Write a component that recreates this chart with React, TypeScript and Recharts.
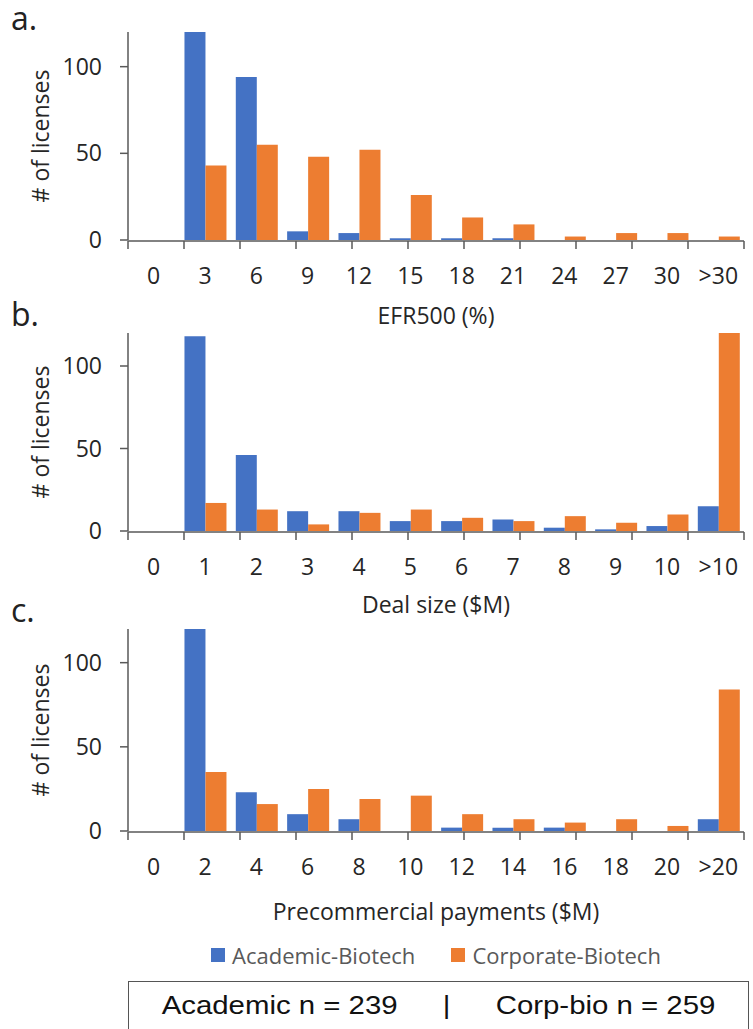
import { BarChart, Bar, XAxis, YAxis } from "recharts";

const efrBins = ["0", "3", "6", "9", "12", "15", "18", "21", "24", "27", "30", ">30"];
const efrAcademic = [0, 120, 94, 5, 4, 1, 1, 1, 0, 0, 0, 0];
const efrCorporate = [0, 43, 55, 48, 52, 26, 13, 9, 2, 4, 4, 2];

const dealBins = ["0", "1", "2", "3", "4", "5", "6", "7", "8", "9", "10", ">10"];
const dealAcademic = [0, 118, 46, 12, 12, 6, 6, 7, 2, 1, 3, 15];
const dealCorporate = [0, 17, 13, 4, 11, 13, 8, 6, 9, 5, 10, 120];

const payBins = ["0", "2", "4", "6", "8", "10", "12", "14", "16", "18", "20", ">20"];
const payAcademic = [0, 120, 23, 10, 7, 0, 2, 2, 2, 0, 0, 7];
const payCorporate = [0, 35, 16, 25, 19, 21, 10, 7, 5, 7, 3, 84];

const yTicks = [0, 50, 100];
const yMax = 120;

const BLUE = "#4472C4";
const ORANGE = "#ED7D31";
const AXIS = "#595959";
const TEXT = "#262626";
const FONT = "'Open Sans', 'Noto Sans', sans-serif";

interface PanelProps {
  top: number;
  plotHeight: number;
  bins: string[];
  academic: number[];
  corporate: number[];
  letter: string;
  letterTop: number;
  title: string;
  titleTop: number;
}

function Panel({ top, plotHeight, bins, academic, corporate, letter, letterTop, title, titleTop }: PanelProps) {
  const data = bins.map((bin, i) => ({ bin, academic: academic[i], corporate: corporate[i] }));
  // tick marks sit on the bin edges, like the Excel original
  const edges = bins.map((_, i) => i).concat(bins.length);
  const marginTop = 32;
  const marginBottom = 58;

  return (
    <>
      <div style={{ position: "absolute", left: 0, top }}>
        <BarChart
          width={753}
          height={marginTop + plotHeight + marginBottom + 2}
          data={data}
          margin={{ top: marginTop, right: 9, bottom: marginBottom, left: 0 }}
          barCategoryGap="10%"
          barGap={0}
        >
          <XAxis
            xAxisId="edges"
            type="number"
            domain={[0, bins.length]}
            ticks={edges}
            allowDataOverflow
            height={1}
            tickFormatter={() => ""}
            tickSize={8}
            axisLine={{ stroke: AXIS, strokeWidth: 1.5 }}
            tickLine={{ stroke: AXIS, strokeWidth: 1.5 }}
          />
          <XAxis
            dataKey="bin"
            height={1}
            interval={0}
            axisLine={false}
            tickLine={false}
            tickSize={0}
            tickMargin={28}
            tick={{ fontSize: 23, fill: TEXT, fontFamily: FONT }}
          />
          <YAxis
            width={128}
            domain={[0, yMax]}
            ticks={yTicks}
            allowDataOverflow
            tickSize={8}
            tickMargin={18}
            axisLine={{ stroke: AXIS, strokeWidth: 1.5 }}
            tickLine={{ stroke: AXIS, strokeWidth: 1.5 }}
            tick={{ fontSize: 23, fill: TEXT, fontFamily: FONT }}
          />
          <Bar dataKey="academic" name="Academic-Biotech" fill={BLUE} isAnimationActive={false} />
          <Bar dataKey="corporate" name="Corporate-Biotech" fill={ORANGE} isAnimationActive={false} />
        </BarChart>
      </div>
      <div
        style={{
          position: "absolute",
          left: 40,
          top: top + marginTop + plotHeight / 2,
          transform: "translate(-50%, -50%) rotate(-90deg)",
          whiteSpace: "nowrap",
          fontSize: 23,
          lineHeight: "23px",
          color: TEXT,
          fontFamily: FONT,
        }}
      >
        # of licenses
      </div>
      <div
        style={{
          position: "absolute",
          left: 11,
          top: letterTop,
          fontSize: 32,
          lineHeight: "32px",
          color: "#222",
          fontFamily: FONT,
        }}
      >
        {letter}
      </div>
      <div
        style={{
          position: "absolute",
          left: 128,
          width: 616,
          top: titleTop,
          textAlign: "center",
          fontSize: 23,
          lineHeight: "23px",
          color: TEXT,
          fontFamily: FONT,
        }}
      >
        {title}
      </div>
    </>
  );
}

function LegendItem({ color, label, gapAfter }: { color: string; label: string; gapAfter: number }) {
  return (
    <div style={{ display: "flex", alignItems: "center", marginRight: gapAfter }}>
      <div style={{ width: 14, height: 14, background: color, marginRight: 7 }} />
      <span>{label}</span>
    </div>
  );
}

export default function App() {
  return (
    <div
      style={{
        position: "absolute",
        left: 0,
        top: 0,
        width: 753,
        height: 1029,
        overflow: "hidden",
        background: "#fff",
      }}
    >
      <Panel
        top={0}
        plotHeight={208}
        bins={efrBins}
        academic={efrAcademic}
        corporate={efrCorporate}
        letter="a."
        letterTop={2}
        title="EFR500 (%)"
        titleTop={304}
      />
      <Panel
        top={301}
        plotHeight={198}
        bins={dealBins}
        academic={dealAcademic}
        corporate={dealCorporate}
        letter="b."
        letterTop={298}
        title="Deal size ($M)"
        titleTop={593}
      />
      <Panel
        top={597}
        plotHeight={202}
        bins={payBins}
        academic={payAcademic}
        corporate={payCorporate}
        letter="c."
        letterTop={594}
        title="Precommercial payments ($M)"
        titleTop={900}
      />
      <div
        style={{
          position: "absolute",
          left: 128,
          width: 616,
          top: 944,
          display: "flex",
          justifyContent: "center",
          fontSize: 22,
          lineHeight: "22px",
          color: "#595959",
          fontFamily: FONT,
        }}
      >
        <LegendItem color={BLUE} label="Academic-Biotech" gapAfter={36} />
        <LegendItem color={ORANGE} label="Corporate-Biotech" gapAfter={0} />
      </div>
      <div
        style={{
          position: "absolute",
          left: 128,
          top: 981,
          width: 621,
          height: 80,
          boxSizing: "border-box",
          border: "1.5px solid #555",
          paddingTop: 9,
          fontFamily: "'Liberation Sans', Arial, sans-serif",
          fontSize: 26,
          lineHeight: "29px",
          color: "#111",
        }}
      >
        <div style={{ display: "flex", justifyContent: "center", gap: 40, transform: "scaleX(1.13)" }}>
          <span>Academic n = 239</span>
          <span>|</span>
          <span>Corp-bio n = 259</span>
        </div>
      </div>
    </div>
  );
}
